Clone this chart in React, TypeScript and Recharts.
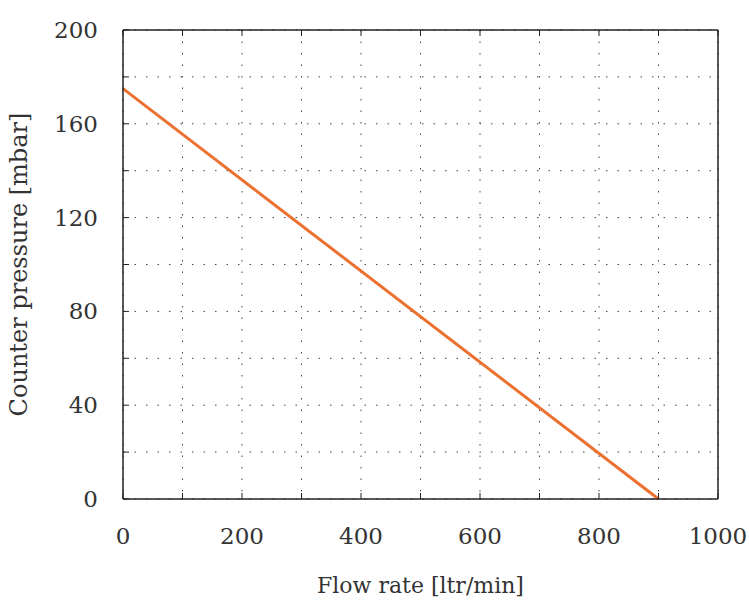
import React from "react";
import { LineChart, Line, XAxis, YAxis, CartesianGrid, Label } from "recharts";

const flowRate = [0, 900];
const counterPressure = [175, 0];
const xTicks = [0, 100, 200, 300, 400, 500, 600, 700, 800, 900, 1000];
const yTicks = [0, 20, 40, 60, 80, 100, 120, 140, 160, 180, 200];
const xLabelled = [0, 200, 400, 600, 800, 1000];
const yLabelled = [0, 40, 80, 120, 160, 200];

const data = flowRate.map((f, i) => ({ flow: f, pressure: counterPressure[i] }));

const FONT = "'DejaVu Serif', serif";
const TXT = "#333";
const AXIS = "#222";

const BottomTick = ({ x, y, payload }: any) => (
  <g>
    <line x1={x} y1={y} x2={x} y2={y - 6} stroke={AXIS} strokeWidth={1} />
    {xLabelled.includes(payload.value) && (
      <text x={x} y={y + 45} textAnchor="middle" fontFamily={FONT} fontSize={23} fill={TXT}>
        {payload.value}
      </text>
    )}
  </g>
);

const TopTick = ({ x, y }: any) => (
  <line x1={x} y1={y} x2={x} y2={y + 6} stroke={AXIS} strokeWidth={1} />
);

const LeftTick = ({ x, y, payload }: any) => (
  <g>
    <line x1={x} y1={y} x2={x + 6} y2={y} stroke={AXIS} strokeWidth={1} />
    {yLabelled.includes(payload.value) && (
      <text x={x - 25} y={y + 8} textAnchor="end" fontFamily={FONT} fontSize={23} fill={TXT}>
        {payload.value}
      </text>
    )}
  </g>
);

const RightTick = ({ x, y }: any) => (
  <line x1={x} y1={y} x2={x - 6} y2={y} stroke={AXIS} strokeWidth={1} />
);

export default function App() {
  return (
    <div style={{ position: "absolute", left: 0, top: 0, width: 749, height: 600, background: "#fff" }}>
      <LineChart width={749} height={600} data={data} margin={{ top: 0, right: 0, left: 0, bottom: 0 }}>
        <CartesianGrid
          xAxisId="bottom"
          yAxisId="left"
          stroke="#444"
          strokeDasharray="1.5 10"
          horizontalValues={yTicks}
          verticalValues={xTicks}
        />
        <XAxis
          xAxisId="bottom"
          dataKey="flow"
          type="number"
          domain={[0, 1000]}
          ticks={xTicks}
          interval={0}
          height={101}
          tickSize={0}
          tickMargin={0}
          tickLine={false}
          axisLine={{ stroke: AXIS, strokeWidth: 1.5 }}
          tick={<BottomTick />}
        >
          <Label value="Flow rate [ltr/min]" position="insideBottom" offset={7} fontFamily={FONT} fontSize={22} fill={TXT} />
        </XAxis>
        <XAxis
          xAxisId="top"
          orientation="top"
          dataKey="flow"
          type="number"
          domain={[0, 1000]}
          ticks={xTicks}
          interval={0}
          height={30}
          tickSize={0}
          tickMargin={0}
          tickLine={false}
          axisLine={{ stroke: AXIS, strokeWidth: 1.5 }}
          tick={<TopTick />}
        />
        <YAxis
          yAxisId="left"
          type="number"
          domain={[0, 200]}
          ticks={yTicks}
          interval={0}
          width={123}
          tickSize={0}
          tickMargin={0}
          tickLine={false}
          axisLine={{ stroke: AXIS, strokeWidth: 1.5 }}
          tick={<LeftTick />}
        >
          <Label value="Counter pressure [mbar]" angle={-90} position="insideLeft" offset={18} style={{ textAnchor: "middle" }} fontFamily={FONT} fontSize={24} fill={TXT} />
        </YAxis>
        <YAxis
          yAxisId="right"
          orientation="right"
          type="number"
          domain={[0, 200]}
          ticks={yTicks}
          interval={0}
          width={31}
          tickSize={0}
          tickMargin={0}
          tickLine={false}
          axisLine={{ stroke: AXIS, strokeWidth: 1.5 }}
          tick={<RightTick />}
        />
        <Line
          xAxisId="bottom"
          yAxisId="left"
          dataKey="pressure"
          stroke="#ec7030"
          strokeWidth={3}
          dot={false}
          isAnimationActive={false}
        />
      </LineChart>
    </div>
  );
}
